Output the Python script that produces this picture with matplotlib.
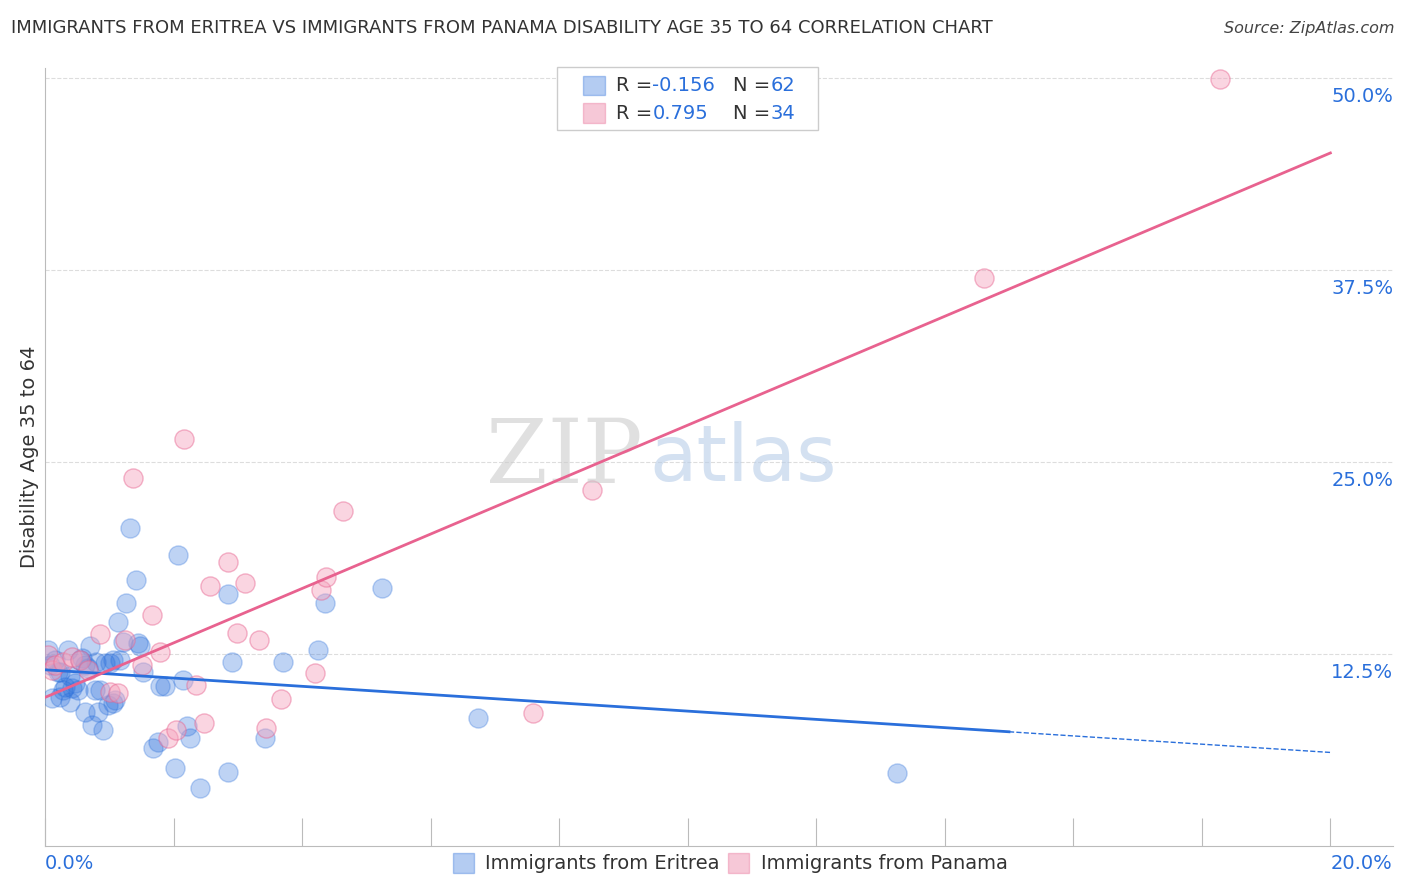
import numpy as np
import matplotlib.pyplot as plt
import matplotlib.transforms as mtrans

# Immigrants from Eritrea (x: %, y: %)
eritrea_x = [0.05, 0.08, 0.11, 0.16, 0.2, 0.23, 0.28, 0.31, 0.36, 0.39, 0.42, 0.47, 0.51, 0.54,
             0.58, 0.62, 0.67, 0.7, 0.73, 0.78, 0.82, 0.86, 0.9, 0.93, 0.98, 1.01, 1.06, 1.09,
             1.14, 1.17, 1.21, 1.26, 1.32, 1.42, 1.45, 1.48, 1.53, 1.68, 1.76, 1.79, 1.87, 2.02,
             2.07, 2.15, 2.21, 2.26, 2.41, 2.85, 2.85, 2.91, 3.42, 3.7, 4.25, 4.36, 5.25, 6.74,
             13.25, 1.06, 0.39, 0.23, 0.79, 0.62]
eritrea_y = [12.76, 11.78, 9.64, 12.11, 11.33, 9.7, 10.16, 10.35, 12.76, 11.07, 10.29, 10.61, 10.16,
             12.11, 12.24, 8.72, 11.59, 13.02, 7.88, 10.16, 8.72, 10.16, 7.55, 11.91, 9.18, 11.91,
             12.11, 9.5, 14.58, 12.11, 13.28, 15.82, 20.7, 17.32, 13.22, 13.02, 11.33, 6.38, 6.77,
             10.42, 10.42, 5.08, 18.95, 10.81, 7.81, 7.03, 3.78, 16.41, 4.82, 11.98, 7.03, 11.98,
             12.76, 15.82, 16.8, 8.33, 4.75, 9.31, 9.38, 11.33, 11.98, 11.78]

# Immigrants from Panama
panama_x = [0.05, 0.11, 0.16, 0.28, 0.42, 0.54, 0.67, 0.86, 1.01, 1.14, 1.25, 1.37, 1.51, 1.67,
            1.79, 1.91, 2.04, 2.16, 2.35, 2.47, 2.57, 2.85, 2.99, 3.11, 3.33, 3.44, 3.67, 4.2,
            4.3, 4.37, 4.64, 7.6, 8.51, 14.61, 18.29]
panama_y = [12.43, 11.46, 11.78, 11.98, 12.3, 12.11, 11.46, 13.8, 10.03, 9.96, 13.41, 23.96, 11.78,
            15.04, 12.63, 7.03, 7.55, 26.5, 10.48, 8.01, 16.93, 18.49, 13.87, 17.12, 13.41, 7.68,
            9.57, 11.26, 16.67, 17.51, 21.81, 8.66, 23.18, 36.98, 49.93]

blue, pink = '#2a6fdb', '#e8628f'
fig, ax = plt.subplots(figsize=(14.06, 8.92), dpi=100)
fig.subplots_adjust(left=0.032, right=0.991, top=0.924, bottom=0.052)

ax.scatter(eritrea_x, eritrea_y, s=190, facecolor=blue, alpha=0.3, edgecolor=blue, linewidth=1, zorder=3)
ax.scatter(panama_x, panama_y, s=190, facecolor='#f4a3bd', alpha=0.45, edgecolor=pink, linewidth=1, zorder=3)

# trend lines (least squares)
xs = np.linspace(0, 20, 100)
b = np.polyfit(eritrea_x, eritrea_y, 1)
xa = np.linspace(0, 15, 50)
ax.plot(xa, np.polyval(b, xa), color=blue, lw=2, zorder=4)
xb = np.linspace(15, 20, 20)
ax.plot(xb, np.polyval(b, xb), color=blue, lw=1, ls='--', zorder=4)
p = np.polyfit(panama_x, panama_y, 1)
ax.plot(xs, np.polyval(p, xs), color=pink, lw=2, zorder=4)

ax.set_xlim(0, 20.98)
ax.set_ylim(0, 50.65)
for yv in [12.5, 25, 37.5, 50]:
    ax.axhline(yv, color='#dddddd', ls='--', lw=0.8, zorder=1)
ax.set_yticks([12.5, 25, 37.5, 50])
ax.set_yticklabels(['12.5%', '25.0%', '37.5%', '50.0%'])
ax.yaxis.tick_right()
ax.tick_params(axis='y', length=0, labelsize=14, labelcolor=blue, pad=0)
off = mtrans.ScaledTranslation(0, -9 / 100, fig.dpi_scale_trans)
for lab in ax.get_yticklabels():
    lab.set_horizontalalignment('right')
    lab.set_verticalalignment('top')
    lab.set_transform(lab.get_transform() + off)
ax.set_xticks(np.arange(0, 21, 2))
ax.set_xticklabels(['0.0%'] + [''] * 9 + ['20.0%'])
ax.tick_params(axis='x', length=20, color='#bbbbbb', labelsize=14, labelcolor=blue, direction='in', pad=6)
for lab in ax.get_xticklabels():
    lab.set_horizontalalignment('left')
for s in ['top', 'right']:
    ax.spines[s].set_visible(False)
ax.spines['left'].set_color('#bbbbbb')
ax.spines['bottom'].set_color('#bbbbbb')
ax.set_ylabel('Disability Age 35 to 64', fontsize=14, color='#333333')

ax.text(9.3, 25.2, 'ZIP', fontsize=64, color='#cccccc', alpha=0.6, ha='right', va='center', family='DejaVu Serif')
ax.text(9.4, 25.2, 'atlas', fontsize=56, color='#b8cde8', alpha=0.6, ha='left', va='center')

fig.text(0.008, 0.963, 'IMMIGRANTS FROM ERITREA VS IMMIGRANTS FROM PANAMA DISABILITY AGE 35 TO 64 CORRELATION CHART',
         fontsize=13, color='#333333')
fig.text(0.992, 0.963, 'Source: ZipAtlas.com', fontsize=11.5, color='#444444', ha='right', style='italic')

# R/N box
fig.patches.append(plt.Rectangle((0.396, 0.854), 0.186, 0.071, transform=fig.transFigure, fc='white', ec='#cccccc'))
for i, (c, r, n) in enumerate([(blue, '-0.156', '62'), (pink, '0.795', '34')]):
    yy = 0.904 - i * 0.031
    fig.patches.append(plt.Rectangle((0.415, yy - 0.011), 0.015, 0.022, transform=fig.transFigure,
                                     fc=c, alpha=0.35, ec=c))
    fig.text(0.438, yy, 'R =', fontsize=14, color='#333333', va='center')
    fig.text(0.464, yy, r, fontsize=14, color=blue, va='center')
    fig.text(0.521, yy, 'N =', fontsize=14, color='#333333', va='center')
    fig.text(0.548, yy, n, fontsize=14, color=blue, va='center')

# bottom legend
for x0, c, t in [(0.322, blue, 'Immigrants from Eritrea'), (0.518, pink, 'Immigrants from Panama')]:
    fig.patches.append(plt.Rectangle((x0, 0.021), 0.015, 0.023, transform=fig.transFigure, fc=c, alpha=0.35, ec=c))
    fig.text(x0 + 0.023, 0.032, t, fontsize=14, color='#333333', va='center')

fig.savefig('out.png', dpi=100)
